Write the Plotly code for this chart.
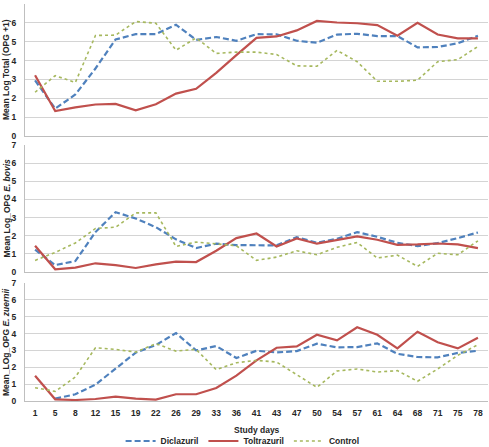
import plotly.graph_objects as go

days = ["1", "5", "8", "12", "15", "19", "22", "26", "29", "33", "36", "41",
        "43", "47", "50", "54", "57", "61", "64", "68", "71", "75", "78"]

# Panel 1: Mean Log Total (OPG + 1)
total_dicl = [2.95, 1.45, 2.2, 3.58, 5.12, 5.4, 5.4, 5.9, 5.1, 5.25, 5.05, 5.4,
              5.39, 5.05, 4.95, 5.38, 5.42, 5.3, 5.3, 4.7, 4.72, 4.92, 5.32]
total_tolt = [3.22, 1.32, 1.52, 1.67, 1.7, 1.36, 1.68, 2.25, 2.5, 3.35, 4.29, 5.2,
              5.28, 5.6, 6.1, 6.02, 5.98, 5.88, 5.32, 6.0, 5.38, 5.18, 5.18]
total_ctrl = [2.32, 3.2, 2.84, 5.33, 5.35, 6.07, 5.98, 4.55, 5.2, 4.38, 4.45, 4.45,
              4.32, 3.72, 3.7, 4.54, 3.94, 2.9, 2.9, 2.96, 3.94, 4.05, 4.75]

# Panel 2: Mean Log OPG E. bovis
bovis_dicl = [1.23, 0.38, 0.6, 2.2, 3.3, 2.95, 2.47, 1.8, 1.32, 1.56, 1.48, 1.47,
              1.47, 1.92, 1.61, 1.83, 2.2, 1.94, 1.61, 1.43, 1.59, 1.87, 2.18]
bovis_tolt = [1.45, 0.15, 0.24, 0.48, 0.38, 0.22, 0.42, 0.57, 0.55, 1.17, 1.87, 2.12,
              1.41, 1.85, 1.56, 1.74, 1.96, 1.78, 1.5, 1.52, 1.57, 1.52, 1.32]
bovis_ctrl = [0.64, 1.08, 1.6, 2.4, 2.47, 3.26, 3.26, 1.41, 1.65, 1.55, 1.45, 0.64,
              0.82, 1.17, 0.95, 1.36, 1.63, 0.77, 0.93, 0.31, 1.03, 0.95, 1.72]

# Panel 3: Mean Log OPG E. zuernii
zuer_dicl = [None, 0.14, 0.4, 0.97, 1.92, 2.87, 3.32, 4.03, 3.0, 3.26, 2.55, 2.98,
             2.88, 2.96, 3.4, 3.18, 3.2, 3.42, 2.8, 2.61, 2.59, 2.85, 2.98]
zuer_tolt = [1.5, 0.1, 0.06, 0.12, 0.26, 0.14, 0.08, 0.4, 0.4, 0.77, 1.5, 2.41,
             3.16, 3.24, 3.93, 3.6, 4.37, 3.93, 3.12, 4.11, 3.48, 3.12, 3.75]
zuer_ctrl = [0.79, 0.57, 1.42, 3.16, 3.06, 2.9, 3.4, 2.96, 3.06, 1.86, 2.27, 2.41,
             2.31, 1.56, 0.81, 1.78, 1.9, 1.72, 1.8, 1.17, 1.9, 2.71, 3.34]

series_names = ["Diclazuril", "Toltrazuril", "Control"]
y_titles = ["Mean Log Total (OPG +1)",
            "Mean Log_OPG <i>E. bovis</i>",
            "Mean_LOg_OPG <i>E. zuernii</i>"]
y_ticks = [0, 1, 2, 3, 4, 5, 6, 7]

panels = [
    [total_dicl, total_tolt, total_ctrl],
    [bovis_dicl, bovis_tolt, bovis_ctrl],
    [zuer_dicl, zuer_tolt, zuer_ctrl],
]

styles = [
    dict(color="#4F81BD", width=2.2, dash="6px,3px"),
    dict(color="#C0504D", width=2.2, dash="solid"),
    dict(color="#A6B85E", width=1.6, dash="dot"),
]

FONT = "Liberation Sans"
fig = go.Figure()

for p, data in enumerate(panels):
    ax = "" if p == 0 else str(p + 1)
    for s, vals in enumerate(data):
        fig.add_trace(go.Scatter(
            x=days, y=vals, mode="lines", name=series_names[s],
            line=styles[s], showlegend=(p == 0), connectgaps=False,
            xaxis="x" + ax, yaxis="y" + ax,
        ))

H = 447
W = 489
ml, mr, mt, mb = 25, 1, 4, 46
ph = H - mt - mb

def dom(top_px, bot_px):
    return [1 - (bot_px - mt) / ph, 1 - (top_px - mt) / ph]

domains = [dom(4, 136), dom(145, 272), dom(283, 401)]

layout = dict(
    width=W, height=H,
    margin=dict(l=ml, r=mr, t=mt, b=mb, autoexpand=False),
    plot_bgcolor="white", paper_bgcolor="white",
    font=dict(family=FONT, size=8.5, color="#262626"),
    legend=dict(orientation="h", x=0.47, xanchor="center", y=-(441 - 401) / ph,
                yanchor="middle",
                font=dict(family=FONT, size=8.5, color="#262626", weight="bold"),
                itemwidth=30, tracegroupgap=0, bgcolor="rgba(0,0,0,0)"),
    showlegend=True,
)

for p in range(3):
    ax = "" if p == 0 else str(p + 1)
    layout["xaxis" + ax] = dict(
        type="category", categoryorder="array", categoryarray=days,
        range=[-0.5, len(days) - 0.5], domain=[0, 1], automargin=False,
        anchor="y" + ax, showgrid=False, showline=True, linecolor="#bfbfbf",
        linewidth=1.2, ticks="", showticklabels=(p == 2), zeroline=False,
        tickfont=dict(family=FONT, size=8.5, color="#262626", weight="bold"),
        ticklabelstandoff=4, ticklabeloverflow="allow",
    )
    layout["yaxis" + ax] = dict(
        range=[0, 7], tickvals=y_ticks, domain=domains[p], anchor="x" + ax,
        automargin=False,
        showgrid=True, gridcolor="#d4d4d4", gridwidth=1.2, showline=True,
        linecolor="#bfbfbf", linewidth=1.2, zeroline=False, ticks="",
        tickfont=dict(family=FONT, size=8.5, color="#262626", weight="bold"),
        ticklabelstandoff=6,
    )

fig.update_layout(**layout)

annotations = []
for p in range(3):
    d = domains[p]
    annotations.append(dict(
        text=y_titles[p], xref="paper", yref="paper",
        x=(6 - ml) / (W - ml - mr), y=(d[0] + d[1]) / 2,
        xanchor="center", yanchor="middle", textangle=-90, showarrow=False,
        font=dict(family=FONT, size=8.5, color="#262626", weight="bold"),
    ))
annotations.append(dict(
    text="Study days", xref="paper", yref="paper",
    x=0.5, y=-(430 - 401) / ph, xanchor="center", yanchor="middle",
    showarrow=False,
    font=dict(family=FONT, size=8.5, color="#262626", weight="bold"),
))
fig.update_layout(annotations=annotations)

fig.write_html(
    "out.html",
    config={"displayModeBar": False},
    post_script="document.body.style.margin='0';document.body.style.padding='0';"
                "document.body.style.overflow='hidden';",
)
